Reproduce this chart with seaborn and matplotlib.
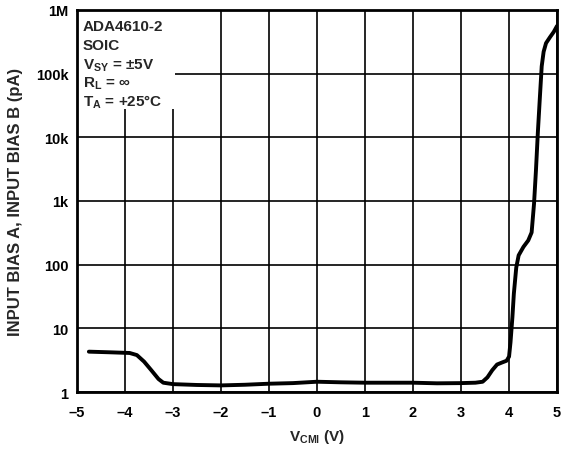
import numpy as np
import matplotlib
matplotlib.use("Agg")
import matplotlib.pyplot as plt
import seaborn as sns
from matplotlib.patches import Rectangle

# curve (V_CMI in volts, bias in pA)
vcm = [-4.75, -4.3, -3.9, -3.75, -3.6, -3.45, -3.3, -3.2, -3.0, -2.5, -2.0,
       -1.5, -1.0, -0.5, 0.0, 0.5, 1.0, 1.5, 2.0, 2.5, 3.0, 3.3, 3.45, 3.55,
       3.65, 3.75, 3.85, 3.95, 4.0, 4.03, 4.07, 4.1, 4.15, 4.2, 4.3, 4.4,
       4.47, 4.52, 4.56, 4.6, 4.64, 4.68, 4.72, 4.77, 4.85, 4.93, 5.0]
bias = [4.3, 4.2, 4.1, 3.8, 3.0, 2.2, 1.6, 1.4, 1.33, 1.29, 1.27,
        1.3, 1.35, 1.38, 1.45, 1.42, 1.4, 1.4, 1.4, 1.37, 1.38, 1.4, 1.45, 1.7,
        2.2, 2.7, 2.9, 3.1, 3.6, 6, 15, 35, 90, 140, 190, 240,
        320, 900, 3000, 12000, 40000, 130000, 220000, 300000, 370000, 450000, 560000]

xticks = [-5, -4, -3, -2, -1, 0, 1, 2, 3, 4, 5]
xticklabels = ['–5', '–4', '–3', '–2', '–1', '0', '1', '2', '3', '4', '5']
yticks = [1, 10, 100, 1e3, 1e4, 1e5, 1e6]
yticklabels = ['1', '10', '100', '1k', '10k', '100k', '1M']
info_lines = ['ADA4610-2', 'SOIC', r'V$_\mathbf{SY}$ = ±5V',
              r'R$_\mathbf{L}$ = ∞', r'T$_\mathbf{A}$ = +25°C']

sns.set_style('white')
plt.rcParams['font.family'] = ['Liberation Sans', 'DejaVu Sans']
plt.rcParams['font.weight'] = 'bold'
plt.rcParams['mathtext.fontset'] = 'custom'
plt.rcParams['mathtext.bf'] = 'Liberation Sans:bold'
plt.rcParams['mathtext.rm'] = 'Liberation Sans:bold'

fig = plt.figure(figsize=(5.61, 4.52), dpi=100)
ax = fig.add_axes([0.137, 0.1305, 0.856, 0.8455])

sns.lineplot(x=vcm, y=bias, color='black', lw=2.8, ax=ax, zorder=3)
ax.set_yscale('log')
ax.set_xlim(-5, 5)
ax.set_ylim(1, 1e6)
ax.set_xticks(xticks)
ax.set_xticklabels(xticklabels, fontsize=10.5, fontweight='bold')
ax.set_yticks(yticks)
ax.set_yticklabels(yticklabels, fontsize=10.5, fontweight='bold')
ax.minorticks_off()
ax.tick_params(length=0, colors='black')
ax.tick_params(axis='x', pad=9)
ax.tick_params(axis='y', pad=6)

ax.set_axisbelow(True)
ax.grid(True, color='black', lw=1.2)
for s in ax.spines.values():
    s.set_color('black')
    s.set_linewidth(2)

# white box behind the condition text
ax.add_patch(Rectangle((0, 0.741), 0.204, 0.259, transform=ax.transAxes,
                       facecolor='white', edgecolor='none', zorder=1))
for i, t in enumerate(info_lines):
    ax.text(0.0125, 0.975 - i * 0.048, t, transform=ax.transAxes, fontsize=11,
            fontweight='bold', va='top', ha='left', zorder=2)

ax.set_xlabel(r'V$_\mathbf{CMI}$ (V)', fontsize=11, fontweight='bold', labelpad=6)
ax.set_ylabel('INPUT BIAS A, INPUT BIAS B (pA)', fontsize=12, fontweight='bold', labelpad=9)

fig.savefig('out.png', dpi=100)
